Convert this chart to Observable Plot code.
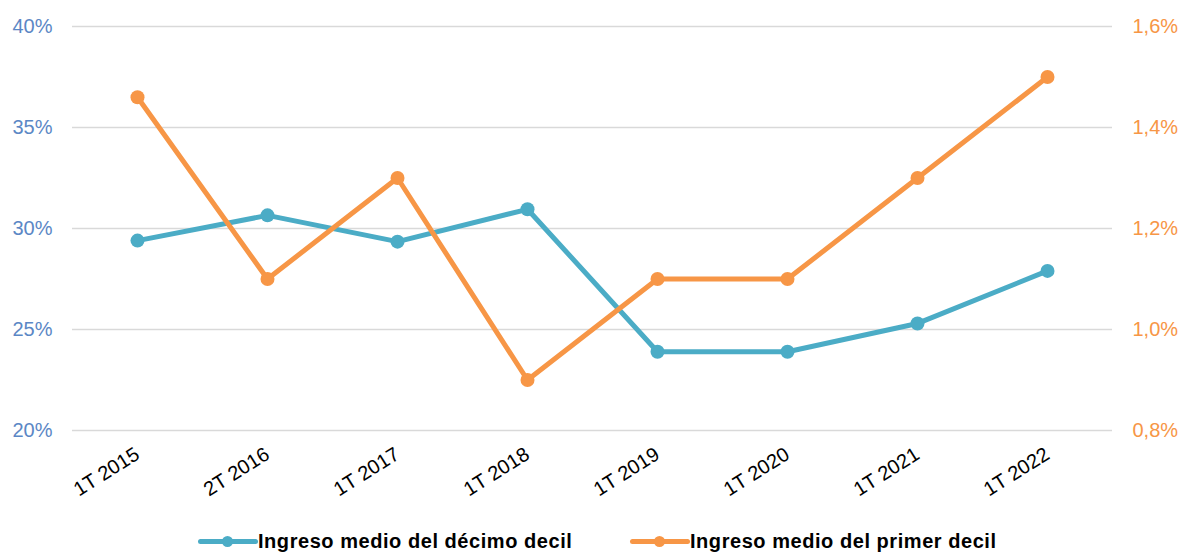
<!DOCTYPE html>
<html>
<head>
<meta charset="utf-8">
<script src="https://cdn.jsdelivr.net/npm/d3@7"></script>
<script src="https://cdn.jsdelivr.net/npm/@observablehq/plot@0.6"></script>
<style>
  html, body { margin: 0; padding: 0; background: #fff; }
  body { width: 1181px; height: 552px; overflow: hidden; font-family: "Liberation Sans", Arial, sans-serif; }
  #legend { position: relative; height: 47px; }
  .item { position: absolute; top: 0; display: flex; align-items: center; height: 30px; font-weight: bold; font-size: 20px; letter-spacing: 0.55px; color: #000; white-space: nowrap; }
  .sw { position: relative; width: 60px; height: 30px; }
  .sw .ln { position: absolute; left: 0; right: 0; top: 12.5px; height: 5px; border-radius: 3px; }
  .sw .dt { position: absolute; left: 24px; top: 9.5px; width: 11px; height: 11px; border-radius: 6px; }
</style>
</head>
<body>
<div id="chart"></div>
<div id="legend"></div>
<script>
const periods = ["1T 2015", "2T 2016", "1T 2017", "1T 2018", "1T 2019", "1T 2020", "1T 2021", "1T 2022"];
const decimoDecil = [29.4, 30.65, 29.35, 30.95, 23.9, 23.9, 25.3, 27.9];
const primerDecil = [1.46, 1.10, 1.30, 0.90, 1.10, 1.10, 1.30, 1.50];
const leftTicks = [20, 25, 30, 35, 40];
const rightTicks = [0.8, 1.0, 1.2, 1.4, 1.6];
const seriesNames = ["Ingreso medio del décimo decil", "Ingreso medio del primer decil"];
const colors = ["#4BACC6", "#F79646"];

// map right-axis values (0.8–1.6) onto the left scale (20–40)
const toLeft = v => 20 + (v - 0.8) * 25;

const blue = periods.map((p, i) => ({period: p, value: decimoDecil[i]}));
const orange = periods.map((p, i) => ({period: p, value: toLeft(primerDecil[i]), raw: primerDecil[i]}));

const fmtL = d => d + "%";
const fmtR = d => d.toFixed(1).replace(".", ",") + "%";

const chart = Plot.plot({
  width: 1181,
  height: 505,
  marginTop: 26,
  marginBottom: 75,
  marginLeft: 72,
  marginRight: 69,
  style: {fontFamily: "Liberation Sans, Arial, sans-serif", fontSize: "20px", background: "#fff"},
  x: {type: "point", domain: periods, padding: 0.5},
  y: {domain: [20, 40]},
  marks: [
    Plot.ruleY(leftTicks, {stroke: "#d9d9d9", strokeWidth: 1.5}),
    Plot.axisY(leftTicks, {anchor: "left", tickSize: 0, tickPadding: 20, tickFormat: fmtL, fill: "#5B87C5", label: null}),
    Plot.axisY(leftTicks, {anchor: "right", tickSize: 0, tickPadding: 20, tickFormat: (d, i) => fmtR(rightTicks[i]), fill: "#F79646", label: null}),
    Plot.axisX({tickSize: 0, tickRotate: -32, tickPadding: 22, fill: "#000", label: null}),
    Plot.line(blue, {x: "period", y: "value", stroke: colors[0], strokeWidth: 5}),
    Plot.dot(blue, {x: "period", y: "value", fill: colors[0], r: 7}),
    Plot.line(orange, {x: "period", y: "value", stroke: colors[1], strokeWidth: 5}),
    Plot.dot(orange, {x: "period", y: "value", fill: colors[1], r: 7})
  ]
});
document.getElementById("chart").appendChild(chart);

const legend = document.getElementById("legend");
const lefts = [198, 630];
seriesNames.forEach((name, i) => {
  const item = document.createElement("div");
  item.className = "item";
  item.style.left = lefts[i] + "px";
  item.style.top = "21px";
  item.innerHTML = `<div class="sw"><div class="ln" style="background:${colors[i]}"></div><div class="dt" style="background:${colors[i]}"></div></div><span>${name}</span>`;
  legend.appendChild(item);
});
</script>
</body>
</html>
